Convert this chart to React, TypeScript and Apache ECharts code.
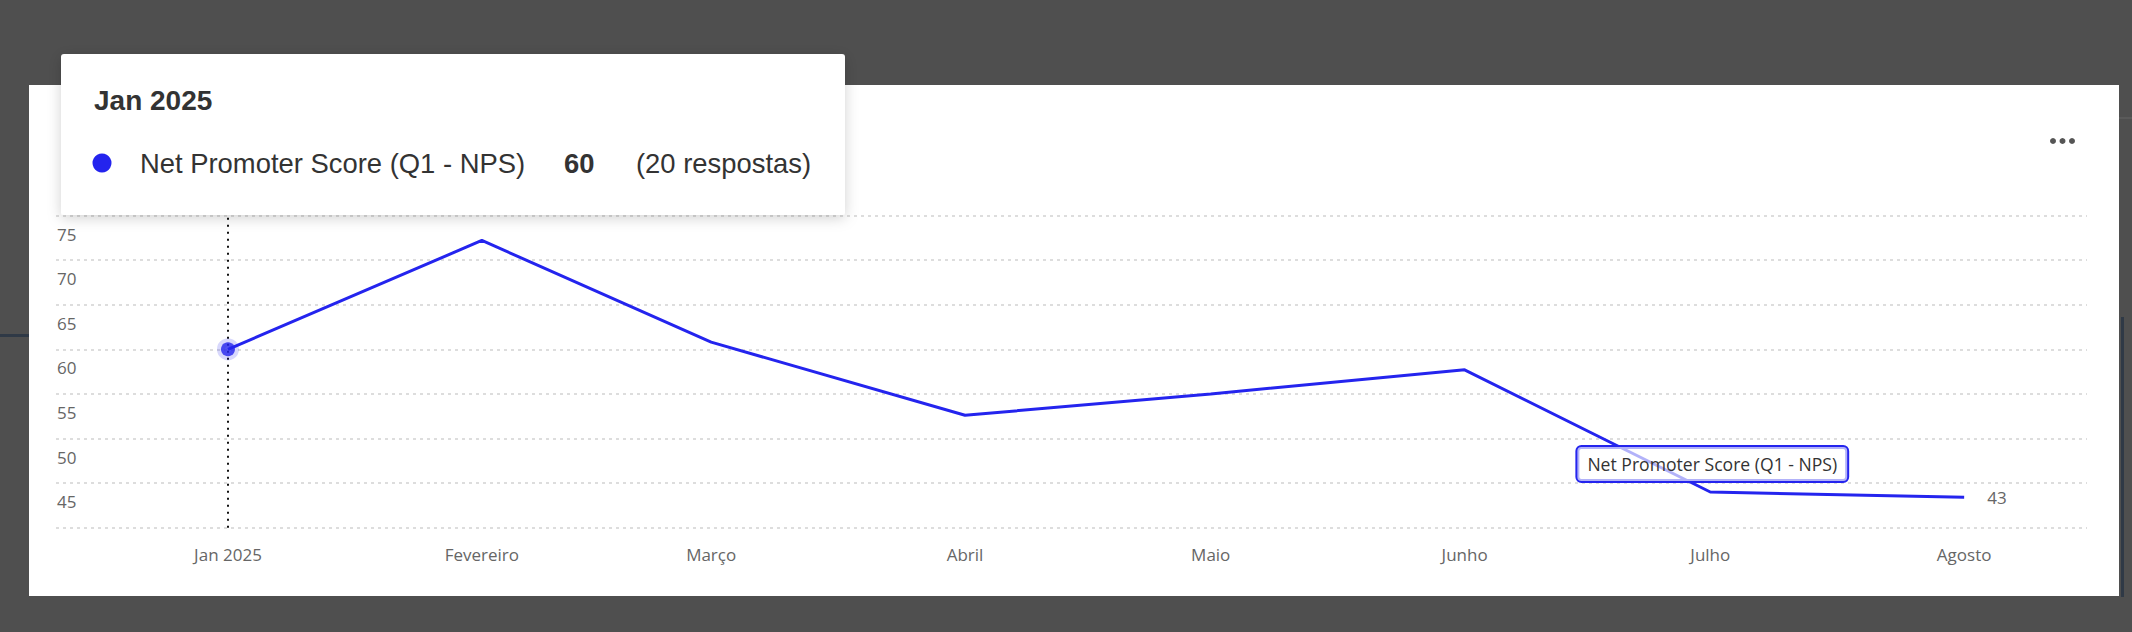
import React, { useEffect, useRef } from "react";
import * as echarts from "echarts";

const months = ["Jan 2025", "Fevereiro", "Março", "Abril", "Maio", "Junho", "Julho", "Agosto"];
const monthDates = [
  "2025-01-01", "2025-02-01", "2025-03-01", "2025-04-01",
  "2025-05-01", "2025-06-01", "2025-07-01", "2025-08-01",
];
const npsValues = [60, 72.2, 60.8, 52.6, 55, 57.7, 44, 43.4];
const seriesName = "Net Promoter Score (Q1 - NPS)";
const highlightIndex = 0;
const highlightResponses = 20;
const seriesLabelIndex = 6;
const xRangeStart = "2024-12-11";
const xRangeEnd = "2025-08-16";
const yMin = 40;
const yMax = 75;
const yStep = 5;

const BLUE = "#2424EE";
const SANS = "'Liberation Sans', Arial, sans-serif";
const OPEN = "'Open Sans', sans-serif";

// days elapsed since 2025-01-01 (UTC), used as the x coordinate
const toDay = (d: string) => {
  const [y, m, day] = d.split("-").map(Number);
  return Math.round((Date.UTC(y, m - 1, day) - Date.UTC(2025, 0, 1)) / 86400000);
};

export default function App() {
  const ref = useRef<HTMLDivElement>(null);

  useEffect(() => {
    if (!ref.current) return;
    const chart = echarts.init(ref.current, null, { renderer: "svg" });

    const dayX = monthDates.map(toDay);

    const lineData = npsValues.map((v, i) => {
      if (i === seriesLabelIndex) {
        return {
          value: [dayX[i], v],
          label: {
            show: true,
            position: "top",
            distance: 11,
            offset: [2, 0],
            formatter: () => seriesName,
            fontFamily: OPEN,
            fontSize: 17.6,
            lineHeight: 20,
            color: "#333",
            backgroundColor: "rgba(255,255,255,0.65)",
            borderColor: BLUE,
            borderWidth: 2,
            borderRadius: 4,
            padding: [7, 10, 7, 10],
          },
        };
      }
      return { value: [dayX[i], v] };
    });

    const option: any = {
      animation: false,
      backgroundColor: "#4f4f4f",
      grid: { left: 56, right: 45, top: 215.5, bottom: 104.3, containLabel: false },
      xAxis: {
        type: "value",
        min: toDay(xRangeStart),
        max: toDay(xRangeEnd),
        axisLine: { show: false },
        axisTick: { show: false },
        splitLine: { show: false },
        axisLabel: {
          customValues: dayX,
          formatter: (v: number) => {
            const idx = dayX.indexOf(Math.round(v));
            return idx >= 0 ? months[idx] : "";
          },
          color: "#666",
          fontFamily: OPEN,
          fontSize: 17,
          margin: 18,
        },
      },
      yAxis: {
        type: "value",
        min: yMin,
        max: yMax,
        interval: yStep,
        axisLine: { show: false },
        axisTick: { show: false },
        splitLine: { show: true, lineStyle: { color: "#dddddd", type: [3, 4], width: 2 } },
        axisLabel: {
          inside: true,
          margin: 1,
          verticalAlign: "top",
          padding: [10, 0, 0, 0],
          lineHeight: 17,
          color: "#666",
          fontFamily: OPEN,
          fontSize: 17,
          formatter: (v: number) => (v === yMin ? "" : String(v)),
        },
      },
      graphic: [
        { type: "rect", z: -10, silent: true, shape: { x: 29, y: 85, width: 2090, height: 511 }, style: { fill: "#ffffff" } },
        { type: "rect", z: -10, silent: true, shape: { x: 0, y: 334, width: 29, height: 3 }, style: { fill: "#2f3946" } },
        { type: "rect", z: -10, silent: true, shape: { x: 2121, y: 317, width: 3, height: 280 }, style: { fill: "#2f3946" } },
        { type: "rect", z: -10, silent: true, shape: { x: 2119, y: 117, width: 13, height: 2 }, style: { fill: "#5a5a5a" } },
        { type: "circle", z: 10, silent: true, shape: { cx: 2053, cy: 141, r: 3 }, style: { fill: "#555" } },
        { type: "circle", z: 10, silent: true, shape: { cx: 2062.5, cy: 141, r: 3 }, style: { fill: "#555" } },
        { type: "circle", z: 10, silent: true, shape: { cx: 2072, cy: 141, r: 3 }, style: { fill: "#555" } },
        {
          type: "group",
          z: 100,
          silent: true,
          children: [
            {
              type: "rect",
              z: 100,
              shape: { x: 61, y: 54, width: 784, height: 161, r: 3 },
              style: { fill: "#ffffff", shadowBlur: 14, shadowColor: "rgba(0,0,0,0.18)", shadowOffsetY: 3 },
            },
            {
              type: "text",
              z: 101,
              style: {
                text: months[highlightIndex],
                x: 94,
                y: 100,
                verticalAlign: "middle",
                fill: "#333",
                fontFamily: SANS,
                fontWeight: "bold",
                fontSize: 28,
              },
            },
            { type: "circle", z: 101, shape: { cx: 102, cy: 163, r: 9.5 }, style: { fill: BLUE } },
            {
              type: "text",
              z: 101,
              style: {
                text: seriesName,
                x: 140,
                y: 163,
                verticalAlign: "middle",
                fill: "#333",
                fontFamily: SANS,
                fontSize: 27.4,
              },
            },
            {
              type: "text",
              z: 101,
              style: {
                text: String(npsValues[highlightIndex]),
                x: 564,
                y: 163,
                verticalAlign: "middle",
                fill: "#333",
                fontFamily: SANS,
                fontWeight: "bold",
                fontSize: 27.4,
              },
            },
            {
              type: "text",
              z: 101,
              style: {
                text: `(${highlightResponses} respostas)`,
                x: 636,
                y: 163,
                verticalAlign: "middle",
                fill: "#333",
                fontFamily: SANS,
                fontSize: 27.4,
              },
            },
          ],
        },
      ],
      series: [
        {
          name: seriesName,
          type: "line",
          data: lineData,
          color: BLUE,
          showSymbol: true,
          symbol: "circle",
          symbolSize: 0,
          lineStyle: { color: BLUE, width: 3 },
          endLabel: {
            show: true,
            formatter: (p: any) => String(Math.round(p.value[1])),
            color: "#666",
            fontFamily: OPEN,
            fontSize: 17,
            distance: 23,
          },
          markLine: {
            silent: true,
            symbol: ["none", "none"],
            label: { show: false },
            lineStyle: { color: "#111", type: [2, 5], width: 2 },
            data: [{ xAxis: dayX[highlightIndex] }],
          },
          z: 3,
        },
        {
          type: "scatter",
          data: [[dayX[highlightIndex], npsValues[highlightIndex]]],
          symbol: "circle",
          symbolSize: 14,
          itemStyle: { color: BLUE, borderColor: "rgba(36,36,238,0.22)", borderWidth: 8 },
          z: 5,
        },
      ],
    };

    chart.setOption(option);
    return () => chart.dispose();
  }, []);

  return (
    <div
      ref={ref}
      style={{ position: "fixed", left: 0, top: 0, width: 2132, height: 632 }}
    />
  );
}
